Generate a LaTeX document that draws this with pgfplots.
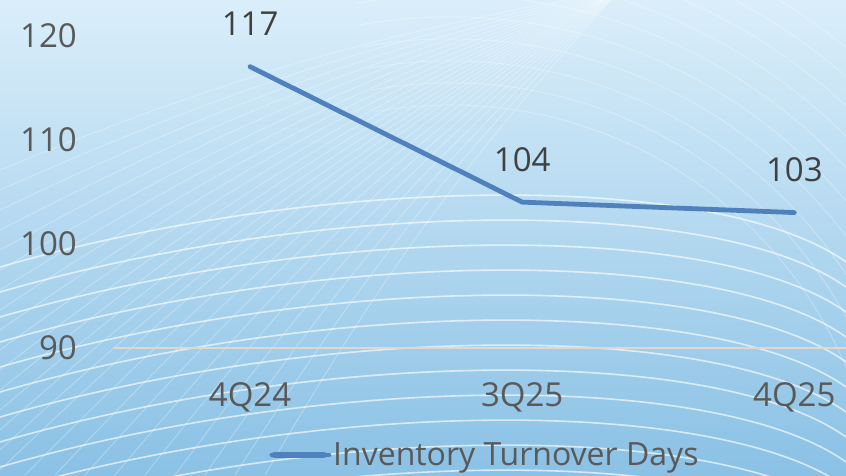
\documentclass[border=0pt]{standalone}
\usepackage{pgfplots}
\pgfplotsset{compat=1.18}
\usepackage{fontspec}
\setmainfont{Open Sans}
\definecolor{bgtop}{RGB}{218,238,250}
\definecolor{bgmid}{RGB}{182,218,241}
\definecolor{bgbot}{RGB}{138,193,229}
\definecolor{ticktext}{RGB}{89,89,89}
\definecolor{lbltext}{RGB}{64,64,64}
\definecolor{series}{RGB}{79,129,189}
\definecolor{axisline}{RGB}{222,215,210}
\begin{document}
\begin{tikzpicture}[x=1pt,y=1pt]
\path[use as bounding box] (0,0) rectangle (846,475);
\shade[top color=bgtop, middle color=bgmid, bottom color=bgbot] (0,0) rectangle (846,475);
\begin{scope}
\clip (0,0) rectangle (846,475);
% family B: fan converging towards upper right
\foreach \y in {305,285,...,5} {
  \draw[white, opacity=0.3, line width=0.9pt] (0,\y) to[bend left=6] (620,485);
}
\foreach \x in {25,55,...,265} {
  \draw[white, opacity=0.3, line width=0.9pt] (\x,0) to[bend left=6] (620,485);
}
% family D: arcs upper right
\foreach \r in {430,452,...,630} {
  \draw[white, opacity=0.3, line width=0.9pt] (450,-60) ++(100:\r) arc[start angle=100, end angle=10, radius=\r];
}
% family A: broad arcs in lower half
\foreach \i in {0,...,11} {
  \draw[white, opacity=0.65, line width=1.6pt] (0,{208-25*\i}) .. controls (330,{303-25*\i}) and (720,{303-25*\i}) .. (846,{213-25*\i});
}
\end{scope}
\begin{axis}[
  at={(114pt,127pt)}, anchor=south west,
  scale only axis, width=732pt, height=348pt,
  xmin=-0.5, xmax=2.19, ymin=90, ymax=123.4,
  axis x line=bottom, axis y line=left, axis line style={-},
  x axis line style={draw=axisline, line width=2pt},
  y axis line style={draw=none},
  major tick length=0pt,
  xtick={0,1,2}, xticklabels={4Q24,3Q25,4Q25},
  ytick={90,100,110,120},
  /pgf/number format/assume math mode=true,
  tick label style={font=\fontsize{33}{33}\selectfont, text=ticktext, inner sep=0pt},
  xticklabel style={anchor=base, yshift=-58pt},
  yticklabel style={anchor=east, xshift=-37pt},
  nodes near coords,
  every node near coord/.append style={font=\fontsize{33}{33}\selectfont, text=lbltext, anchor=base, yshift=31pt, inner sep=0pt},
  legend style={draw=none, fill=none, at={(0.5,0)}, anchor=center, xshift=5pt, yshift=-107pt, font=\fontsize{32}{32}\selectfont, text=ticktext, inner sep=0pt},
  legend image code/.code={\path (0pt,0pt) -- (57pt,0pt);\draw[series, line width=6pt, line cap=round] (2.5pt,0pt) -- (52pt,0pt);},
  clip=false,
]
\addplot[series, line width=4.8pt, line cap=round, line join=round, mark=none] coordinates {(0,117) (1,104) (2,103)};
\addlegendentry{Inventory Turnover Days}
\end{axis}
\end{tikzpicture}
\end{document}
